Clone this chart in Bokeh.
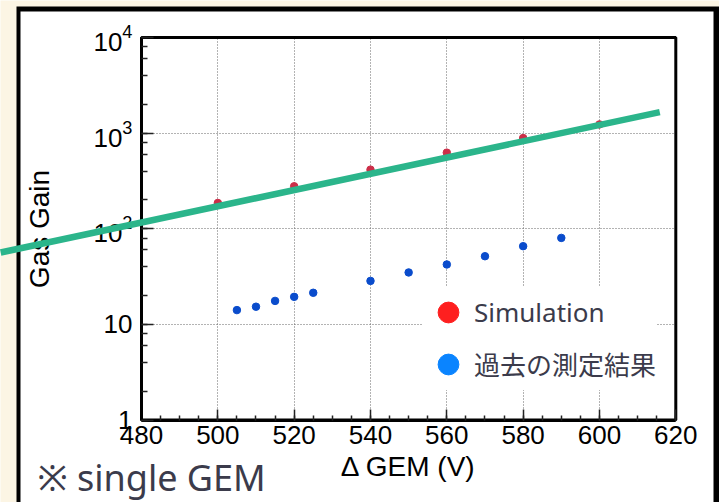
import math

from bokeh.plotting import figure
from bokeh.models import (LinearAxis, LogAxis, Range1d, Label, Legend, LegendItem,
                          SingleIntervalTicker, LogTicker, Grid)
from bokeh.embed import file_html
from bokeh.resources import INLINE

# ---- data -------------------------------------------------------------
sim_voltage = [500, 520, 540, 560, 580, 600]
sim_gain = [186, 278, 415, 625, 888, 1234]

meas_voltage = [505, 510, 515, 520, 525, 540, 550, 560, 570, 580, 590]
meas_gain = [14.1, 15.3, 17.6, 19.4, 21.4, 28.5, 34.9, 42.3, 51.6, 65.7, 80.2]

# exponential fit drawn as a straight line on the log axis
fit_voltage = [443.1, 615.8]
fit_gain = [56.4, 1656]

x_ticks_bounds = (480, 620)
y_ticks_bounds = (1, 1e4)

# ---- page geometry ----------------------------------------------------
W, H = 719, 502
BOX_L, BOX_R, BOX_T, BOX_B = 141.0, 675.3, 37.0, 419.5   # plot box in page pixels

CREAM = "#fcf5e4"
TEXT_DARK = "#3b3b4b"
AX_FONT = "Liberation Sans"
UI_FONT = "'Noto Sans', 'Noto Sans CJK JP'"

# the frame covers the whole page; the ranges are stretched so that the
# plot box lands where it belongs
px_per_v = (BOX_R - BOX_L) / (x_ticks_bounds[1] - x_ticks_bounds[0])
x_start = x_ticks_bounds[0] - BOX_L / px_per_v
x_end = x_ticks_bounds[0] + (W - BOX_L) / px_per_v
px_per_dec = (BOX_B - BOX_T) / 4.0
y_end = 10 ** (4 + BOX_T / px_per_dec)
y_start = 10 ** (-(H - BOX_B) / px_per_dec)


def page_x(px):
    return x_start + px / px_per_v


def page_y(py):
    return 10 ** (math.log10(y_end) - py / px_per_dec)


p = figure(width=W, height=H,
           x_range=Range1d(x_start, x_end), y_range=Range1d(y_start, y_end),
           y_axis_type="log", x_axis_location=None, y_axis_location=None,
           output_backend="svg", toolbar_location=None, min_border=0,
           outline_line_color=None, background_fill_color=CREAM,
           border_fill_color=CREAM)
p.center = []

# white slide panel with a black edge
for (l, r, t, b), color in (((16, W + 20, 6, H + 60), "black"),
                            ((20, 713, 11, H + 60), "white")):
    p.quad(left=[page_x(l)], right=[page_x(r)], top=[page_y(t)], bottom=[page_y(b)],
           fill_color=color, line_color=None, level="image")

# dotted grid limited to the plot box
x_ticker = SingleIntervalTicker(interval=20, num_minor_ticks=4)
y_ticker = LogTicker()
for dim, tk, b, cb in ((0, x_ticker, x_ticks_bounds, y_ticks_bounds),
                       (1, y_ticker, y_ticks_bounds, x_ticks_bounds)):
    g = Grid(dimension=dim, ticker=tk, bounds=b, cross_bounds=cb,
             grid_line_color="#666666", grid_line_dash="1 2", grid_line_width=1)
    p.add_layout(g)

# plot box outline
p.quad(left=[x_ticks_bounds[0]], right=[x_ticks_bounds[1]],
       bottom=[y_ticks_bounds[0]], top=[y_ticks_bounds[1]],
       fill_color=None, line_color="black", line_width=3)

# data
p.scatter(sim_voltage, sim_gain, marker="circle", size=7.5,
          fill_color="#cc2e48", line_color="#cc2e48")
p.scatter(meas_voltage, meas_gain, marker="circle", size=7.5,
          fill_color="#0a4ccc", line_color="#0a4ccc")

# axes pinned to the plot box edges
xaxis = LinearAxis(fixed_location=y_ticks_bounds[0], bounds=x_ticks_bounds,
                   ticker=x_ticker, axis_label="\u0394 GEM (V)")
yaxis = LogAxis(fixed_location=x_ticks_bounds[0], bounds=y_ticks_bounds,
                ticker=y_ticker, axis_label="Gas Gain",
                major_label_overrides={1: "1", 10: "10"})
for ax in (xaxis, yaxis):
    ax.axis_line_color = "black"
    ax.axis_line_width = 3
    ax.major_tick_out = 0
    ax.minor_tick_out = 0
    ax.major_tick_line_color = "#222222"
    ax.minor_tick_line_color = "#222222"
    ax.major_tick_line_width = 1.5
    ax.minor_tick_line_width = 1.5
    ax.major_label_text_font = AX_FONT
    ax.major_label_text_font_size = "26px"
    ax.major_label_text_color = "black"
    ax.axis_label_text_font = AX_FONT
    ax.axis_label_text_font_size = "28px"
    ax.axis_label_text_font_style = "normal"
    ax.axis_label_text_color = "black"
xaxis.major_tick_in = 11
xaxis.minor_tick_in = 5
xaxis.major_label_standoff = 6
xaxis.axis_label_standoff = 3
yaxis.major_tick_in = 12
yaxis.minor_tick_in = 6
yaxis.major_label_standoff = 9
yaxis.axis_label_standoff = 35
p.add_layout(xaxis, "below")
p.add_layout(yaxis, "left")

# fitted curve, drawn above everything
p.line(fit_voltage, fit_gain, line_color="#2bb58b", line_width=6.5, level="overlay")

# legend with large markers (hidden renderers only provide the legend swatches)
leg_sim = p.scatter(sim_voltage, sim_gain, marker="circle",
                    fill_color="#fe1f1f", line_color="#fe1f1f", visible=False)
leg_meas = p.scatter(meas_voltage, meas_gain, marker="circle",
                     fill_color="#0a84ff", line_color="#0a84ff", visible=False)
legend = Legend(items=[LegendItem(label="Simulation", renderers=[leg_sim]),
                       LegendItem(label="過去の測定結果", renderers=[leg_meas])],
                location=(422, 112), glyph_width=52, glyph_height=52, spacing=0,
                label_standoff=0, padding=14, margin=0,
                border_line_color=None, background_fill_color="white",
                background_fill_alpha=1, inactive_fill_alpha=0,
                label_text_font=UI_FONT,
                label_text_font_size="26px", label_text_color=TEXT_DARK)
p.add_layout(legend)

p.add_layout(Label(x=37, y=H - 477, x_units="screen", y_units="screen",
                   text="※ single GEM", text_font=UI_FONT, text_font_size="36px",
                   text_color=TEXT_DARK, text_baseline="middle"))

open("out.html", "w").write(file_html(p, INLINE))
